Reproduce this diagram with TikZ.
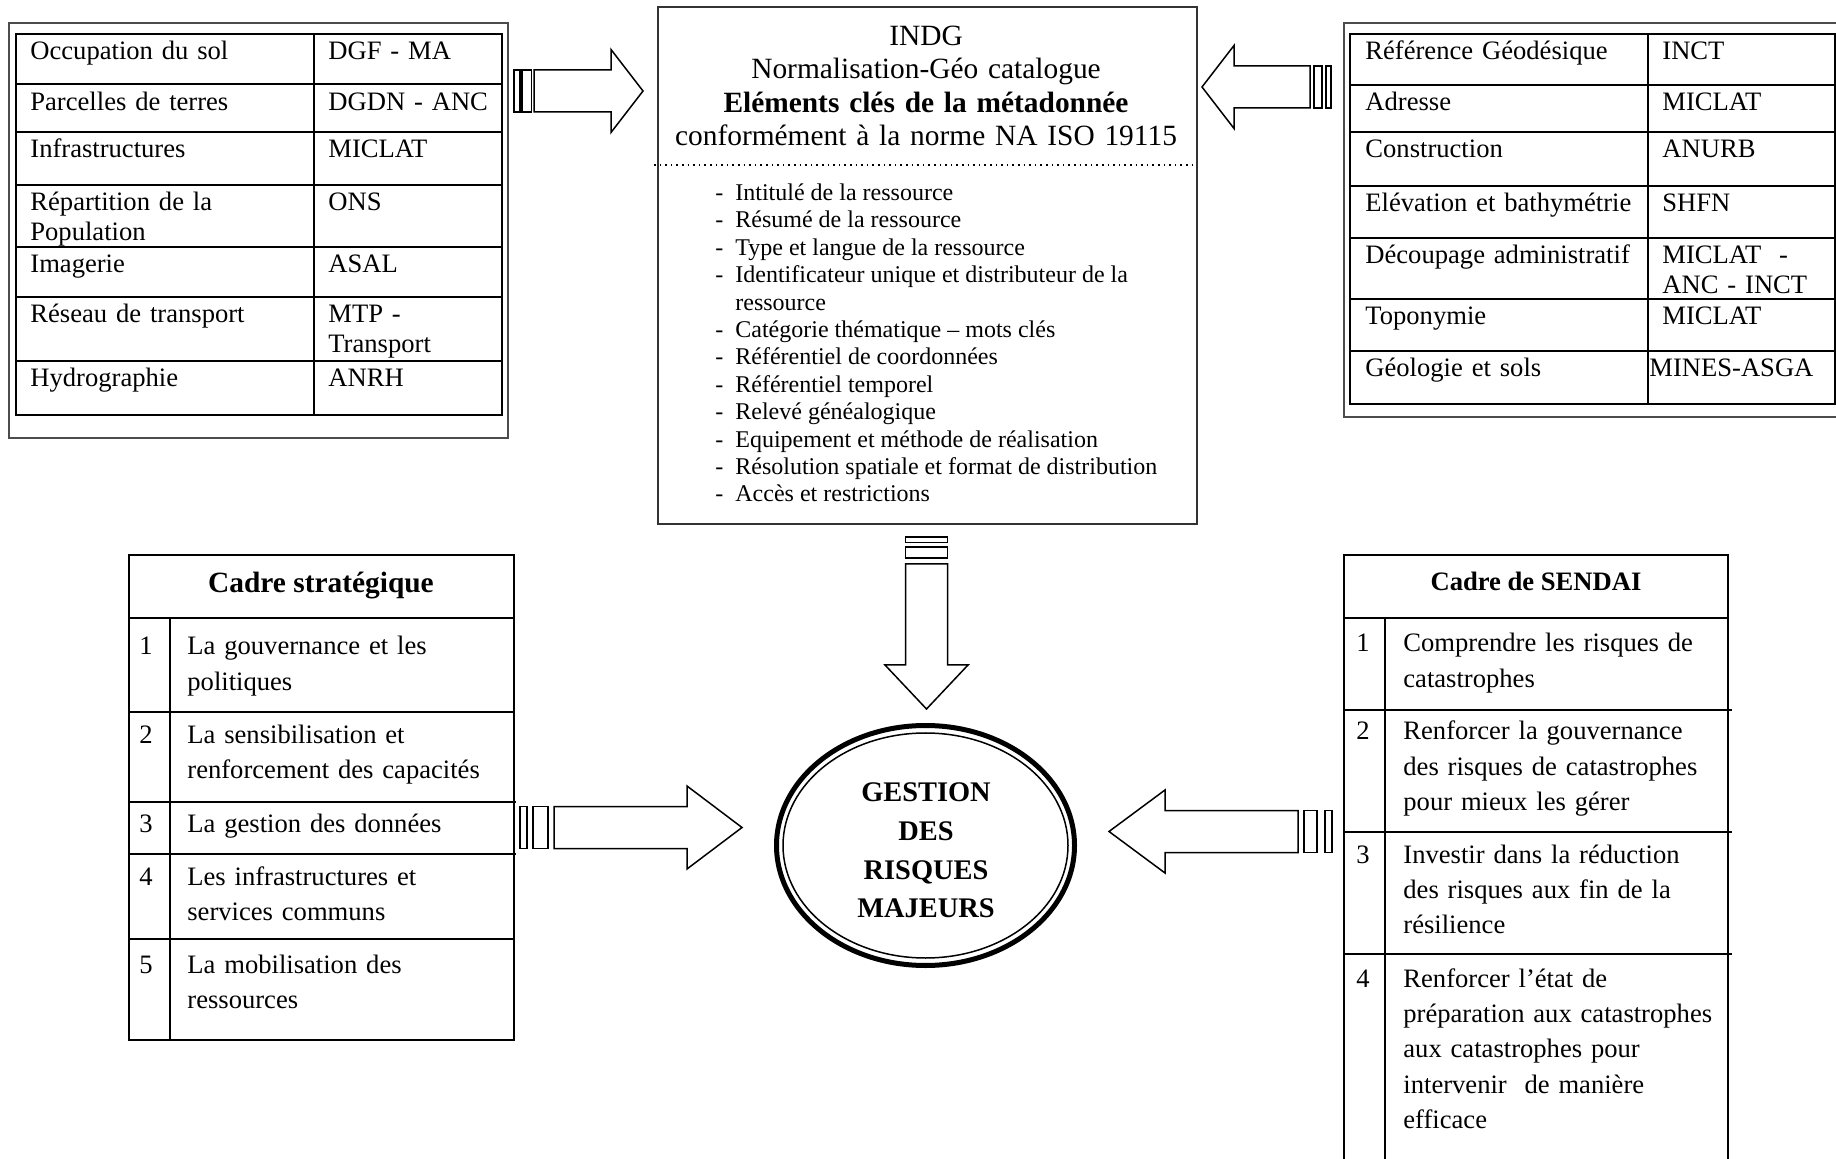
\documentclass[tikz,border=0pt]{standalone}
\usepackage{fontspec}
\setmainfont{Liberation Serif}
\usetikzlibrary{shapes.geometric}

\tikzset{
  tabline/.style={line width=1pt},
  outerbox/.style={draw=black!70,line width=0.9pt},
  arrowline/.style={line width=0.75pt,fill=white},
  celltext/.style={anchor=base west,inner sep=0pt,align=left,text width=#1,
    font=\fontsize{13.3}{15}\selectfont},
  celltext/.default=150pt,
  itemtext/.style={anchor=base west,inner sep=0pt,align=left,text width=#1,
    font=\fontsize{13.3}{17.7}\selectfont},
  itemtext/.default=150pt,
  pics/bigarrow/.style n args={6}{code={
    \draw[arrowline] (0,-21) rectangle (#3,21);
    \draw[arrowline] (#4,-21) rectangle (#5,21);
    \draw[arrowline] (#6,-21) -- (#1-#2,-21) -- (#1-#2,-41.5) -- (#1,0)
      -- (#1-#2,41.5) -- (#1-#2,21) -- (#6,21) -- cycle;
  }},
}

\begin{document}
\begin{tikzpicture}[x=0.5pt,y=-0.5pt]
\useasboundingbox (0,0) rectangle (1836,1159);
\clip (0,0) rectangle (1836,1159);

% themes and producers, left
\draw[outerbox] (9,23) rectangle (508,438);
\draw[tabline] (16,34) rectangle (502,415) (314,34) -- (314,415);
\foreach \y in {84,132,185,247,297,361} \draw[tabline] (16,\y) -- (502,\y);
\foreach \y/\a/\b [count=\i] in {34/Occupation du sol/DGF - MA,
    85/Parcelles de terres/DGDN - ANC, 132/Infrastructures/MICLAT,
    185/{Répartition de la\\Population}/ONS, 247/Imagerie/ASAL,
    297/Réseau de transport/{MTP -\\Transport}, 361/Hydrographie/ANRH}{
  \node[celltext] (theme\i) at (30,\y+26) {\a};
  \node[celltext=90pt] (prod\i) at (328,\y+26) {\b};
}

% themes and producers, right
\draw[outerbox] (1344,23) rectangle (1860,417);
\draw[tabline] (1350,34) rectangle (1835,404) (1648,34) -- (1648,404);
\foreach \y in {85,132,186,238,299,351} \draw[tabline] (1350,\y) -- (1835,\y);
\foreach \y/\a/\b [count=\i] in {34/Référence Géodésique/INCT,
    85/Adresse/MICLAT, 132/Construction/ANURB,
    186/Elévation et bathymétrie/SHFN,
    238/Découpage administratif/{MICLAT\ \ -\\ANC - INCT},
    299/Toponymie/MICLAT, 351/Géologie et sols/{\hspace*{-6.5pt}MINES-ASGA}}{
  \node[celltext] (rtheme\i) at (1365,\y+26) {\a};
  \node[celltext=85pt] (rprod\i) at (1662,\y+26) {\b};
}

% INDG catalogue
\node[draw=black!80,line width=1pt,inner sep=0pt,anchor=north west,
  minimum width=269.5pt,minimum height=258.5pt] (indg) at (657,6) {};
\node[anchor=base,inner sep=0pt,align=center,text width=265pt,
  font=\fontsize{14.7}{16.65}\selectfont] (indgtitle) at (926,45.5)
  {INDG\\Normalisation-Géo catalogue\\\textbf{Eléments clés de la métadonnée}\\
   conformément à la norme NA ISO 19115};
\draw[dotted,line width=0.8pt] (654,165) -- (1196,165);
\node[anchor=base west,inner sep=0pt,font=\fontsize{12}{13.7}\selectfont] (meta) at (715,200.5) {%
  \begin{tabular}[t]{@{}l@{\hspace{6pt}}l@{}}
  - & Intitulé de la ressource\\
  - & Résumé de la ressource\\
  - & Type et langue de la ressource\\
  - & Identificateur unique et distributeur de la\\
    & ressource\\
  - & Catégorie thématique – mots clés\\
  - & Référentiel de coordonnées\\
  - & Référentiel temporel\\
  - & Relevé généalogique\\
  - & Equipement et méthode de réalisation\\
  - & Résolution spatiale et format de distribution\\
  - & Accès et restrictions
  \end{tabular}};

% cadre strategique
\draw[tabline] (129,555) rectangle (514,1040);
\draw[tabline] (129,618) -- (514,618) (170,618) -- (170,1040);
\foreach \y/\w in {712/514,802/516,854/516,939/514} \draw[tabline] (129,\y) -- (\w,\y);
\node[anchor=base,inner sep=0pt,font=\bfseries\fontsize{14.7}{17}\selectfont] (strat) at (321,593) {Cadre stratégique};
\foreach \y/\t [count=\i] in {655/{La gouvernance et les\\politiques},
    743/{La sensibilisation et\\renforcement des capacités},
    832/La gestion des données, 885/{Les infrastructures et\\services communs},
    973/{La mobilisation des\\ressources}}{
  \node[itemtext=20pt] (snum\i) at (139,\y) {\i};
  \node[itemtext] (sitem\i) at (187,\y) {\t};
}

% cadre de Sendai
\draw[tabline] (1344,1180) -- (1344,555) -- (1728,555) -- (1728,1180);
\draw[tabline] (1344,618) -- (1728,618) (1385,618) -- (1385,1180);
\foreach \y in {710,832,954} \draw[tabline] (1344,\y) -- (1732,\y);
\node[anchor=base,inner sep=0pt,font=\bfseries\fontsize{13.3}{16}\selectfont] (sendai) at (1536,591) {Cadre de SENDAI};
\foreach \y/\t [count=\i] in {652/{Comprendre les risques de\\catastrophes},
    740/{Renforcer la gouvernance\\des risques de catastrophes\\pour mieux les gérer},
    863/{Investir dans la réduction\\des risques aux fin de la\\résilience},
    987/{Renforcer l’état de\\préparation aux catastrophes\\aux catastrophes pour\\intervenir\ \ de manière\\efficace}}{
  \node[itemtext=20pt] (knum\i) at (1356,\y) {\i};
  \node[itemtext=160pt] (kitem\i) at (1403,\y) {\t};
}

% gestion des risques majeurs
\node[ellipse,draw,line width=2.5pt,minimum width=149pt,minimum height=120pt,inner sep=0pt] (grm) at (925.5,845.5) {};
\draw[line width=0.75pt] (grm.center) ellipse [x radius=71.25pt,y radius=56.25pt];
\node[anchor=base,inner sep=0pt,align=center,text width=90pt,
  font=\bfseries\fontsize{14.2}{19.5}\selectfont] (grmtext) at (926,801)
  {GESTION\\DES\\RISQUES\\MAJEURS};

% striped arrows
\pic at (514,91) {bigarrow={129}{32}{6}{8}{17.5}{20}};
\pic[rotate=180] at (1331,87) {bigarrow={129}{32}{5}{9}{17}{21}};
\pic[rotate=-90] at (926.5,537) {bigarrow={172}{44}{5.4}{10}{21}{27}};
\pic at (520,827.5) {bigarrow={222}{55}{7}{13}{28}{34}};
\pic[rotate=180] at (1332,831.5) {bigarrow={223}{56}{7}{15}{28}{34}};
\end{tikzpicture}
\end{document}
